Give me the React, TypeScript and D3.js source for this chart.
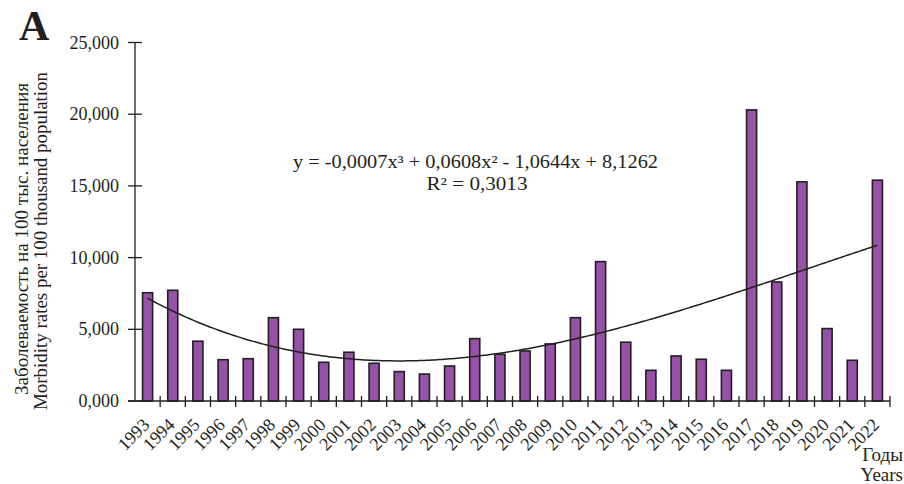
import React from "react";
import * as d3 from "d3";

const years = [
  "1993","1994","1995","1996","1997","1998","1999","2000","2001","2002",
  "2003","2004","2005","2006","2007","2008","2009","2010","2011","2012",
  "2013","2014","2015","2016","2017","2018","2019","2020","2021","2022",
];
const rates = [
  7.55, 7.72, 4.17, 2.88, 2.95, 5.81, 5.0, 2.7, 3.4, 2.63,
  2.05, 1.88, 2.44, 4.35, 3.26, 3.49, 3.98, 5.81, 9.72, 4.1,
  2.14, 3.14, 2.91, 2.14, 20.3, 8.3, 15.28, 5.05, 2.84, 15.4,
];
const yTicks = [0, 5, 10, 15, 20, 25];
const yTickLabels = ["0,000", "5,000", "10,000", "15,000", "20,000", "25,000"];
const yLabelLines = ["Заболеваемость на 100 тыс. населения", "Morbidity rates per 100 thousand population"];
const xLabelLines = ["Годы", "Years"];
const panelLetter = "A";
const eqLine = "y = -0,0007x³ + 0,0608x² - 1,0644x + 8,1262";
const r2Line = "R² = 0,3013";

// least-squares cubic fit (like the spreadsheet trendline)
function cubicFit(ys: number[]): number[] {
  const n = 4;
  const A: number[][] = Array.from({ length: n }, () => Array(n + 1).fill(0));
  ys.forEach((y, i) => {
    const x = i + 1;
    const p = [1, x, x * x, x * x * x];
    for (let r = 0; r < n; r++) {
      for (let c = 0; c < n; c++) A[r][c] += p[r] * p[c];
      A[r][n] += p[r] * y;
    }
  });
  for (let i = 0; i < n; i++) {
    let m = i;
    for (let k = i + 1; k < n; k++) if (Math.abs(A[k][i]) > Math.abs(A[m][i])) m = k;
    [A[i], A[m]] = [A[m], A[i]];
    for (let k = 0; k < n; k++) {
      if (k === i) continue;
      const f = A[k][i] / A[i][i];
      for (let c = i; c <= n; c++) A[k][c] -= f * A[i][c];
    }
  }
  return A.map((row, i) => row[n] / row[i]);
}

export default function App() {
  const W = 904, H = 484;
  const left = 135, right = 890, top = 42.5, bottom = 401;
  const x = d3.scaleBand<string>().domain(years).range([left, right]).paddingInner(0).paddingOuter(0);
  const y = d3.scaleLinear().domain([0, 25]).range([bottom, top]);
  const bw = x.bandwidth() * 0.4;
  const coef = cubicFit(rates);
  const fx = (t: number) => coef[0] + coef[1] * t + coef[2] * t * t + coef[3] * t * t * t;
  const pts: [number, number][] = d3.range(1, 30.001, 0.1).map((t) => {
    const cx = left + (t - 0.5) * x.bandwidth();
    return [cx, y(fx(t))];
  });
  const line = d3.line();
  const font = "'Liberation Serif', 'Times New Roman', serif";
  const ink = "#231f20";
  const boundaries = d3.range(0, years.length + 1).map((i) => left + i * x.bandwidth());

  return (
    <svg width={W} height={H} style={{ position: "absolute", left: 0, top: 0, background: "#fff" }} fontFamily={font}>
      <text x={19} y={40} fontSize={42} fontWeight="bold" fill={ink}>{panelLetter}</text>
      {/* bars */}
      {years.map((yr, i) => {
        const cx = (x(yr) as number) + x.bandwidth() / 2;
        return (
          <rect key={yr} x={cx - bw / 2} y={y(rates[i])} width={bw} height={bottom - y(rates[i])}
            fill="#9652a6" stroke={ink} strokeWidth={1.6} />
        );
      })}
      {/* trend */}
      <path d={line(pts) || ""} fill="none" stroke={ink} strokeWidth={1.5} />
      {/* y axis */}
      <line x1={left} x2={left} y1={top} y2={bottom} stroke={ink} strokeWidth={1.3} />
      {yTicks.map((t, i) => (
        <g key={t}>
          <line x1={left - 7} x2={left + 7} y1={y(t)} y2={y(t)} stroke={ink} strokeWidth={1.3} />
          <text x={119} y={y(t) + 6} textAnchor="end" fontSize={18} fill={ink}>{yTickLabels[i]}</text>
        </g>
      ))}
      {/* x axis */}
      <line x1={left - 7} x2={right} y1={bottom} y2={bottom} stroke={ink} strokeWidth={1.3} />
      {boundaries.slice(1).map((b, i) => (
        <line key={i} x1={b} x2={b} y1={bottom - 5} y2={bottom + 6} stroke={ink} strokeWidth={1.3} />
      ))}
      {years.map((yr) => {
        const cx = (x(yr) as number) + x.bandwidth() / 2;
        return (
          <text key={yr} transform={`translate(${cx + 3},${bottom + 25}) rotate(-45)`} textAnchor="end"
            fontSize={18} fill={ink}>{yr}</text>
        );
      })}
      {/* y label */}
      <text transform={`translate(28,239) rotate(-90)`} textAnchor="middle" fontSize={18} fill={ink}
        textLength={312} lengthAdjust="spacingAndGlyphs">{yLabelLines[0]}</text>
      <text transform={`translate(47,241) rotate(-90)`} textAnchor="middle" fontSize={18} fill={ink}
        textLength={338} lengthAdjust="spacingAndGlyphs">{yLabelLines[1]}</text>
      {/* x label */}
      <text x={903} y={461} textAnchor="end" fontSize={19} fill={ink}>{xLabelLines[0]}</text>
      <text x={903} y={481} textAnchor="end" fontSize={19} fill={ink}>{xLabelLines[1]}</text>
      {/* equation */}
      <text x={475.5} y={168} textAnchor="middle" fontSize={18} fill={ink}
        textLength={365} lengthAdjust="spacingAndGlyphs">{eqLine}</text>
      <text x={477} y={190} textAnchor="middle" fontSize={18} fill={ink}
        textLength={101} lengthAdjust="spacingAndGlyphs">{r2Line}</text>
    </svg>
  );
}
